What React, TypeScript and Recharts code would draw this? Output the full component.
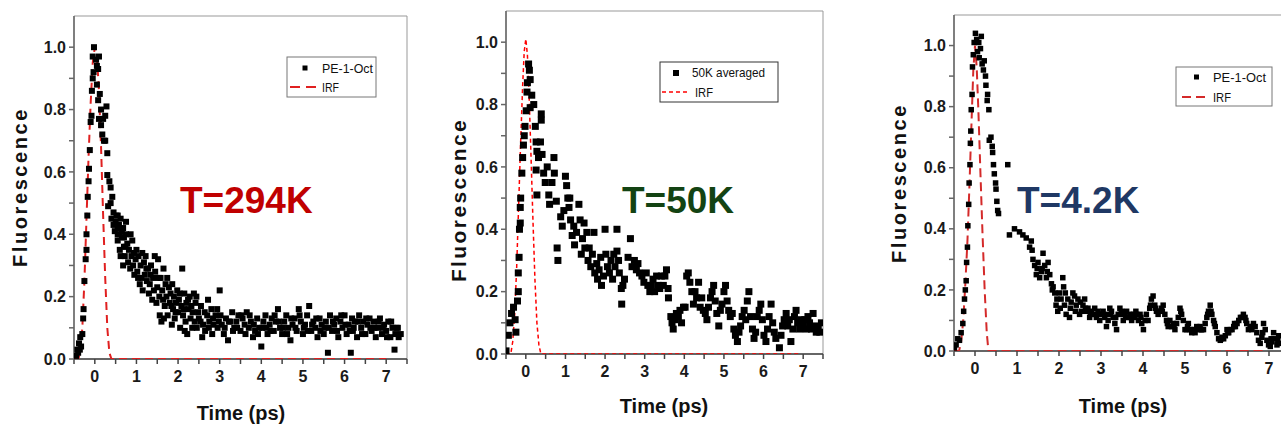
import React from 'react';
import { ScatterChart, Scatter, XAxis, YAxis, ReferenceArea } from 'recharts';

type Pt = [number, number];

// T = 294 K, PE-1-Oct  [time (ps), fluorescence]
const ROOM_POINTS: Pt[] = [
  [-0.45, 0.01], [-0.42, 0.03], [-0.4, 0.02], [-0.38, 0.05], [-0.36, 0.03], [-0.35, 0.07], [-0.33, 0.04],
  [-0.3, 0.08], [-0.28, 0.13], [-0.27, 0.16], [-0.25, 0.25], [-0.22, 0.32], [-0.2, 0.35], [-0.2, 0.4],
  [-0.18, 0.46], [-0.17, 0.52], [-0.15, 0.57], [-0.14, 0.61], [-0.12, 0.67], [-0.1, 0.76], [-0.08, 0.78],
  [-0.07, 0.86], [-0.05, 0.9], [-0.03, 0.92], [-0.05, 0.97], [-0.02, 1.0],
  [0.03, 0.96], [0.05, 0.94], [0.08, 0.93], [0.1, 0.97], [0.05, 0.88], [0.08, 0.83], [0.12, 0.85],
  [0.15, 0.8], [0.1, 0.77], [0.15, 0.75], [0.2, 0.77], [0.18, 0.72], [0.22, 0.7], [0.25, 0.78],
  [0.28, 0.81], [0.25, 0.7], [0.3, 0.66], [0.3, 0.59], [0.35, 0.57], [0.38, 0.55], [0.32, 0.49],
  [0.38, 0.5], [0.42, 0.52], [0.45, 0.47], [0.4, 0.45], [0.45, 0.43], [0.48, 0.41], [0.5, 0.44],
  [0.55, 0.46], [0.55, 0.42], [0.6, 0.4], [0.65, 0.41], [0.7, 0.39], [0.75, 0.44], [0.55, 0.4],
  [0.52, 0.46], [0.55, 0.38], [0.58, 0.43], [0.6, 0.35], [0.62, 0.45], [0.65, 0.39], [0.68, 0.42],
  [0.7, 0.36], [0.72, 0.33], [0.75, 0.4], [0.78, 0.37], [0.8, 0.31], [0.82, 0.35], [0.85, 0.29],
  [0.88, 0.33], [0.9, 0.38], [0.92, 0.3], [0.95, 0.27], [0.98, 0.32], [1.0, 0.35],
  [1.02, 0.28], [1.05, 0.33], [1.08, 0.24], [1.1, 0.3], [1.12, 0.26], [1.15, 0.22], [1.18, 0.31],
  [1.2, 0.27], [1.22, 0.33], [1.25, 0.25], [1.28, 0.29], [1.3, 0.21], [1.32, 0.24], [1.35, 0.3],
  [1.38, 0.19], [1.4, 0.26], [1.42, 0.22], [1.45, 0.28], [1.48, 0.18], [1.5, 0.23], [1.52, 0.32],
  [1.55, 0.2], [1.58, 0.26], [1.6, 0.12], [1.62, 0.22], [1.65, 0.29], [1.68, 0.17], [1.7, 0.24],
  [1.72, 0.2], [1.75, 0.14], [1.78, 0.23], [1.8, 0.18], [1.82, 0.21], [1.85, 0.11], [1.88, 0.16],
  [1.9, 0.2], [1.92, 0.13], [1.95, 0.18], [1.98, 0.22], [2.0, 0.15],
  [2.02, 0.19], [2.05, 0.1], [2.08, 0.17], [2.1, 0.29], [2.12, 0.14], [2.15, 0.21], [2.18, 0.12],
  [2.2, 0.18], [2.22, 0.08], [2.25, 0.16], [2.28, 0.2], [2.3, 0.13], [2.32, 0.17], [2.35, 0.15],
  [2.38, 0.21], [2.4, 0.12], [2.42, 0.18], [2.45, 0.1], [2.48, 0.15], [2.5, 0.13], [2.55, 0.17],
  [2.6, 0.11], [2.65, 0.09], [2.7, 0.14], [2.72, 0.19], [2.75, 0.12], [2.8, 0.16], [2.82, 0.08],
  [2.85, 0.11], [2.9, 0.14], [2.95, 0.1], [3.0, 0.22], [2.98, 0.12],
  [0.62, 0.33], [0.68, 0.3], [0.74, 0.36], [0.86, 0.4], [0.94, 0.34], [1.04, 0.26], [1.14, 0.34],
  [1.24, 0.29], [1.34, 0.27], [1.44, 0.33], [1.54, 0.26], [1.64, 0.19], [1.74, 0.26], [1.84, 0.17],
  [1.94, 0.15], [2.04, 0.21], [2.14, 0.16], [2.24, 0.19], [2.34, 0.1], [2.44, 0.2], [2.54, 0.12],
  [2.64, 0.15], [2.74, 0.1], [2.84, 0.13], [2.94, 0.16], [1.56, 0.14], [1.66, 0.13], [1.86, 0.24],
  [2.16, 0.09], [2.58, 0.07],
  [3.05, 0.11], [3.1, 0.08], [3.15, 0.13], [3.2, 0.06], [3.25, 0.12], [3.3, 0.15], [3.35, 0.1],
  [3.4, 0.12], [3.45, 0.14], [3.5, 0.09], [3.55, 0.13], [3.6, 0.11], [3.65, 0.15], [3.7, 0.1],
  [3.75, 0.12], [3.8, 0.07], [3.85, 0.09], [3.9, 0.13], [3.95, 0.1], [4.0, 0.04], [4.05, 0.12],
  [4.1, 0.14], [4.15, 0.08], [4.2, 0.11], [4.25, 0.13], [4.3, 0.09], [4.35, 0.12], [4.4, 0.16],
  [4.45, 0.1], [4.5, 0.08], [4.55, 0.12], [4.6, 0.14], [4.65, 0.1], [4.7, 0.06], [4.75, 0.11],
  [4.8, 0.13], [4.85, 0.09], [4.9, 0.16], [4.95, 0.12], [5.0, 0.08], [5.05, 0.11], [5.1, 0.14],
  [5.15, 0.17], [5.2, 0.09], [5.25, 0.12], [5.3, 0.1], [5.35, 0.07], [5.4, 0.13], [5.45, 0.11],
  [5.5, 0.08], [5.55, 0.12], [5.6, 0.02], [5.62, 0.1], [5.65, 0.14], [5.7, 0.09], [5.75, 0.11],
  [5.8, 0.13], [5.85, 0.07], [5.9, 0.12], [5.95, 0.1], [6.0, 0.14], [6.05, 0.08], [6.1, 0.11],
  [6.15, 0.02], [6.18, 0.13], [6.2, 0.09], [6.25, 0.12], [6.3, 0.07], [6.35, 0.14], [6.4, 0.1],
  [6.45, 0.12], [6.5, 0.08], [6.55, 0.11], [6.6, 0.13], [6.65, 0.09], [6.7, 0.12], [6.75, 0.07],
  [6.8, 0.1], [6.85, 0.13], [6.9, 0.08], [6.95, 0.11], [7.0, 0.09], [7.05, 0.12], [7.1, 0.07],
  [7.15, 0.1], [7.2, 0.03], [7.22, 0.08], [7.25, 0.1], [7.3, 0.07], [7.35, 0.08],
  [3.02, 0.14], [3.12, 0.1], [3.22, 0.12], [3.32, 0.09], [3.42, 0.1], [3.52, 0.14], [3.62, 0.08],
  [3.72, 0.14], [3.82, 0.11], [3.92, 0.08], [4.02, 0.1], [4.12, 0.1], [4.22, 0.09], [4.32, 0.14],
  [4.42, 0.12], [4.52, 0.1], [4.62, 0.08], [4.72, 0.13], [4.82, 0.1], [4.92, 0.14], [5.02, 0.1],
  [5.12, 0.09], [5.22, 0.11], [5.32, 0.13], [5.42, 0.09], [5.52, 0.1], [5.72, 0.12], [5.82, 0.09],
  [5.92, 0.14], [6.02, 0.11], [6.12, 0.09], [6.22, 0.1], [6.32, 0.12], [6.42, 0.08], [6.52, 0.13],
  [6.62, 0.1], [6.72, 0.1], [6.82, 0.12], [6.92, 0.1], [7.02, 0.07], [7.12, 0.12], [7.28, 0.1],
];

// T = 50 K, averaged
const MID_POINTS: Pt[] = [
  [-0.5, 0.01], [-0.44, 0.06], [-0.4, 0.1], [-0.36, 0.13], [-0.31, 0.15], [-0.27, 0.11], [-0.25, 0.07],
  [-0.21, 0.17], [-0.19, 0.2], [-0.19, 0.26], [-0.17, 0.31], [-0.16, 0.4], [-0.14, 0.42], [-0.14, 0.47],
  [-0.13, 0.5], [-0.1, 0.58], [-0.08, 0.63], [-0.06, 0.67], [-0.04, 0.7], [-0.02, 0.73], [0.01, 0.78],
  [0.03, 0.84], [0.04, 0.87], [0.07, 0.93], [0.09, 0.91],
  [0.11, 0.88], [0.15, 0.83], [0.2, 0.8], [0.11, 0.79], [0.24, 0.73], [0.26, 0.68], [0.28, 0.65],
  [0.32, 0.63], [0.26, 0.59], [0.28, 0.51], [0.39, 0.77], [0.39, 0.75], [0.37, 0.68], [0.41, 0.64],
  [0.45, 0.58], [0.49, 0.55], [0.54, 0.6], [0.58, 0.51], [0.6, 0.48], [0.66, 0.55], [0.71, 0.63],
  [0.72, 0.58], [0.77, 0.49], [0.79, 0.34], [0.81, 0.3], [0.88, 0.44], [0.92, 0.41], [0.96, 0.46],
  [1.0, 0.57], [1.03, 0.54], [1.06, 0.5], [1.09, 0.47], [1.11, 0.5], [1.13, 0.43], [1.17, 0.38],
  [1.21, 0.41], [1.23, 0.35], [1.28, 0.39], [1.34, 0.48], [1.37, 0.43], [1.4, 0.32], [1.43, 0.37],
  [1.47, 0.42], [1.49, 0.34], [1.54, 0.39], [1.57, 0.3], [1.6, 0.34], [1.64, 0.28], [1.68, 0.32],
  [1.72, 0.39], [1.74, 0.26], [1.79, 0.29], [1.81, 0.24], [1.85, 0.27], [1.89, 0.31], [1.91, 0.22],
  [1.96, 0.25], [2.0, 0.4], [2.02, 0.32], [2.06, 0.28], [2.11, 0.26], [2.15, 0.3], [2.19, 0.24],
  [2.22, 0.32], [2.25, 0.28], [2.3, 0.4], [2.3, 0.33], [2.34, 0.3], [2.36, 0.26], [2.41, 0.21],
  [2.42, 0.16], [2.45, 0.22], [2.49, 0.24], [2.58, 0.31], [2.64, 0.37], [2.68, 0.28], [2.74, 0.3],
  [2.79, 0.27], [2.83, 0.29], [2.87, 0.26], [2.93, 0.25], [2.98, 0.23], [3.04, 0.26], [3.08, 0.22],
  [3.13, 0.2], [3.17, 0.22], [3.21, 0.24], [3.25, 0.2], [3.3, 0.25], [3.34, 0.22], [3.38, 0.21],
  [3.42, 0.25], [3.47, 0.22], [3.51, 0.25], [3.55, 0.27], [3.59, 0.21], [3.6, 0.18], [3.66, 0.12],
  [3.69, 0.1], [3.72, 0.08], [3.76, 0.11], [3.8, 0.13], [3.85, 0.12], [3.89, 0.14], [3.93, 0.1],
  [3.98, 0.15], [4.02, 0.15], [4.06, 0.25], [4.1, 0.26], [4.14, 0.23], [4.19, 0.2], [4.23, 0.16],
  [4.27, 0.2], [4.31, 0.18], [4.36, 0.23], [4.4, 0.15], [4.44, 0.18], [4.48, 0.14], [4.53, 0.13],
  [4.57, 0.11], [4.61, 0.15], [4.66, 0.18], [4.7, 0.2], [4.74, 0.22], [4.78, 0.17], [4.82, 0.13],
  [4.87, 0.09], [4.91, 0.14], [4.95, 0.16], [5.0, 0.2], [5.04, 0.22], [5.08, 0.17], [5.12, 0.14],
  [5.16, 0.12], [5.21, 0.13], [5.25, 0.08], [5.29, 0.06], [5.34, 0.04], [5.38, 0.07], [5.42, 0.09],
  [5.46, 0.12], [5.51, 0.14], [5.55, 0.11], [5.59, 0.17], [5.63, 0.2], [5.67, 0.12], [5.72, 0.08],
  [5.76, 0.05], [5.8, 0.07], [5.84, 0.12], [5.89, 0.14], [5.93, 0.16], [5.97, 0.11], [6.01, 0.06],
  [6.06, 0.04], [6.1, 0.08], [6.14, 0.12], [6.19, 0.16], [6.23, 0.1], [6.27, 0.07], [6.31, 0.05],
  [6.4, 0.02], [6.44, 0.06], [6.48, 0.09], [6.52, 0.11], [6.57, 0.13], [6.61, 0.09], [6.65, 0.11],
  [6.69, 0.04], [6.74, 0.08], [6.78, 0.12], [6.82, 0.14], [6.86, 0.1], [6.91, 0.08], [6.95, 0.11],
  [6.99, 0.09], [7.04, 0.11], [7.08, 0.08], [7.12, 0.12], [7.16, 0.1], [7.21, 0.08], [7.25, 0.13],
  [7.29, 0.09], [7.33, 0.07], [7.38, 0.08], [7.42, 0.07], [7.46, 0.1],
];

// T = 4.2 K, PE-1-Oct
const LOW_POINTS: Pt[] = [
  [-0.49, 0.01], [-0.45, 0.02], [-0.41, 0.04], [-0.37, 0.035], [-0.33, 0.06], [-0.29, 0.09], [-0.27, 0.13],
  [-0.25, 0.17], [-0.23, 0.2], [-0.21, 0.23], [-0.2, 0.29], [-0.18, 0.34], [-0.17, 0.41], [-0.15, 0.48],
  [-0.14, 0.55], [-0.12, 0.61], [-0.11, 0.68], [-0.1, 0.72], [-0.09, 0.79], [-0.07, 0.84], [-0.06, 0.93],
  [-0.04, 0.97], [-0.02, 1.01], [0.01, 1.04], [0.04, 1.02], [0.06, 0.98], [0.09, 1.01], [0.1, 0.96],
  [0.13, 0.99], [0.15, 1.03], [0.17, 0.94], [0.2, 0.92], [0.22, 0.95], [0.25, 0.9], [0.26, 0.87],
  [0.29, 0.82], [0.3, 0.84], [0.33, 0.79], [0.34, 0.69], [0.38, 0.7], [0.41, 0.67], [0.42, 0.65],
  [0.44, 0.61], [0.46, 0.58], [0.49, 0.55], [0.5, 0.53], [0.52, 0.49], [0.54, 0.46], [0.56, 0.45],
  [0.78, 0.61],
  [0.82, 0.38], [0.94, 0.4], [1.06, 0.39], [1.14, 0.38], [1.22, 0.37], [1.3, 0.34], [1.34, 0.36],
  [1.38, 0.3], [1.42, 0.28], [1.46, 0.25], [1.5, 0.29], [1.54, 0.24], [1.58, 0.26], [1.62, 0.32],
  [1.66, 0.28], [1.7, 0.24], [1.74, 0.29], [1.78, 0.25], [1.82, 0.22], [1.86, 0.21], [1.9, 0.19],
  [1.93, 0.15], [1.97, 0.13], [2.01, 0.19], [2.05, 0.17], [2.09, 0.24], [2.11, 0.21], [2.13, 0.15],
  [2.17, 0.12], [2.21, 0.17], [2.25, 0.11], [2.29, 0.16], [2.33, 0.19], [2.37, 0.18], [2.41, 0.15],
  [2.45, 0.17], [2.49, 0.12], [2.53, 0.13], [2.57, 0.15], [2.61, 0.17], [2.65, 0.13], [2.69, 0.14],
  [2.73, 0.11], [2.77, 0.13], [2.81, 0.12], [2.85, 0.14], [2.89, 0.11], [2.93, 0.13], [2.97, 0.1],
  [3.01, 0.12], [3.05, 0.13], [3.09, 0.11], [3.13, 0.08], [3.17, 0.1], [3.21, 0.14], [3.25, 0.13],
  [3.29, 0.11], [3.33, 0.09], [3.37, 0.07], [3.41, 0.12], [3.45, 0.14], [3.49, 0.13], [3.53, 0.1],
  [3.57, 0.12], [3.61, 0.13], [3.65, 0.11], [3.69, 0.12], [3.73, 0.1], [3.77, 0.12], [3.81, 0.11],
  [3.85, 0.12], [3.89, 0.1], [3.93, 0.12], [3.97, 0.09], [4.01, 0.07], [4.05, 0.1], [4.08, 0.12],
  [4.12, 0.1], [4.16, 0.14], [4.2, 0.17], [4.24, 0.18], [4.28, 0.15], [4.32, 0.13], [4.36, 0.12],
  [4.4, 0.13], [4.44, 0.14], [4.48, 0.15], [4.52, 0.12], [4.56, 0.1], [4.6, 0.08], [4.64, 0.1],
  [4.68, 0.08], [4.72, 0.09], [4.76, 0.07], [4.8, 0.09], [4.84, 0.11], [4.88, 0.14], [4.92, 0.12],
  [4.96, 0.1], [5.0, 0.07], [5.04, 0.07], [5.08, 0.09], [5.12, 0.07], [5.16, 0.06], [5.2, 0.07],
  [5.24, 0.06], [5.28, 0.08], [5.32, 0.07], [5.36, 0.08], [5.4, 0.07], [5.44, 0.07], [5.48, 0.09],
  [5.52, 0.11], [5.56, 0.13], [5.6, 0.15], [5.64, 0.12], [5.68, 0.1], [5.72, 0.08], [5.76, 0.06],
  [5.8, 0.04], [5.84, 0.035], [5.88, 0.045], [5.92, 0.04], [5.96, 0.05], [6.0, 0.07], [6.04, 0.06],
  [6.08, 0.07], [6.12, 0.07], [6.16, 0.08], [6.2, 0.08], [6.24, 0.09], [6.28, 0.1], [6.32, 0.11],
  [6.39, 0.12], [6.43, 0.11], [6.47, 0.09], [6.51, 0.07], [6.55, 0.08], [6.59, 0.07], [6.63, 0.09],
  [6.67, 0.08], [6.71, 0.06], [6.75, 0.035], [6.79, 0.025], [6.83, 0.045], [6.87, 0.09], [6.91, 0.07],
  [6.95, 0.035], [6.99, 0.02], [7.03, 0.015], [7.07, 0.03], [7.11, 0.06], [7.15, 0.04], [7.19, 0.02],
  [7.23, 0.05], [7.27, 0.025],
  [1.36, 0.33], [1.48, 0.27], [1.6, 0.27], [1.72, 0.26], [1.84, 0.2], [1.95, 0.17], [2.03, 0.14],
  [2.15, 0.19], [2.27, 0.14], [2.39, 0.13], [2.51, 0.16], [2.63, 0.14], [2.75, 0.12], [2.87, 0.12],
  [2.99, 0.12], [3.11, 0.12], [3.23, 0.12], [3.35, 0.11], [3.47, 0.12], [3.59, 0.11], [3.71, 0.11],
  [3.83, 0.13], [3.95, 0.11], [4.18, 0.15], [4.3, 0.14], [4.46, 0.13], [4.58, 0.09], [4.74, 0.08],
  [4.9, 0.13], [5.06, 0.08], [5.22, 0.07], [5.38, 0.07], [5.54, 0.12], [5.62, 0.13], [5.7, 0.09],
  [5.86, 0.04], [6.02, 0.06], [6.18, 0.09], [6.36, 0.11], [6.45, 0.1], [6.61, 0.08], [6.85, 0.06],
  [7.05, 0.04], [7.21, 0.035],
];

// instrument response functions
const ROOM_IRF: Pt[] = [
  [-0.5, 0], [-0.4, 0], [-0.35, 0.02], [-0.3, 0.1], [-0.25, 0.25], [-0.2, 0.45], [-0.15, 0.65],
  [-0.1, 0.82], [-0.05, 0.95], [0, 1.0], [0.05, 0.97], [0.1, 0.86], [0.15, 0.68], [0.2, 0.46],
  [0.25, 0.26], [0.3, 0.1], [0.35, 0.02], [0.4, 0], [7.0, 0],
];
const MID_IRF: Pt[] = [
  [-0.5, 0], [-0.38, 0], [-0.33, 0.04], [-0.28, 0.13], [-0.23, 0.28], [-0.18, 0.48], [-0.13, 0.68],
  [-0.08, 0.86], [-0.04, 0.97], [0, 1.01], [0.04, 0.96], [0.08, 0.84], [0.13, 0.64], [0.18, 0.43],
  [0.23, 0.24], [0.28, 0.1], [0.33, 0.03], [0.38, 0], [6.9, 0],
];
const LOW_IRF: Pt[] = [
  [-0.5, 0], [-0.38, 0], [-0.33, 0.03], [-0.28, 0.1], [-0.23, 0.22], [-0.18, 0.36], [-0.13, 0.55],
  [-0.08, 0.76], [-0.04, 0.92], [0, 1.0], [0.04, 0.93], [0.08, 0.79], [0.13, 0.58], [0.18, 0.38],
  [0.23, 0.2], [0.28, 0.06], [0.32, 0], [6.9, 0],
];

const X_TICKS = [-0.5, 0, 0.5, 1, 1.5, 2, 2.5, 3, 3.5, 4, 4.5, 5, 5.5, 6, 6.5, 7, 7.5];
const Y_TICKS = [0, 0.1, 0.2, 0.3, 0.4, 0.5, 0.6, 0.7, 0.8, 0.9, 1.0];
const Y_LABELED = [0, 0.2, 0.4, 0.6, 0.8, 1.0];

const FONT = '"Liberation Sans", Arial, sans-serif';

const toRows = (pts: Pt[]) => pts.map(([t, f]) => ({ t, f }));

interface PanelProps {
  left: number;
  width: number;
  top: number;
  bottom: number;
  yAxisWidth: number;
  right: number;
  points: Pt[];
  irf: Pt[];
  marker: number;
  irfColor: string;
  irfDash: string;
  irfWidth: number;
}

const Panel: React.FC<PanelProps> = ({ left, width, top, bottom, yAxisWidth, right, points, irf, marker, irfColor, irfDash, irfWidth }) => {
  const tickStyle = { fontSize: 16, fontWeight: 'bold', fill: '#1a1a1a', fontFamily: FONT };
  return (
    <div style={{ position: 'absolute', left, top: 0 }}>
      <ScatterChart width={width} height={427} margin={{ top, right, bottom, left: 0 }}>
        <XAxis
          type="number"
          dataKey="t"
          domain={[-0.5, 7.5]}
          ticks={X_TICKS}
          interval={0}
          allowDataOverflow
          height={30}
          tickSize={5}
          tickMargin={7}
          stroke="#444"
          strokeWidth={1.5}
          tick={tickStyle}
          tickFormatter={(v: number) => (Number.isInteger(v) ? String(v) : '')}
        />
        <YAxis
          type="number"
          dataKey="f"
          domain={[0, 1.1]}
          ticks={Y_TICKS}
          interval={0}
          allowDataOverflow
          width={yAxisWidth}
          tickSize={5}
          tickMargin={3}
          stroke="#666"
          strokeWidth={1.5}
          tick={tickStyle}
          tickFormatter={(v: number) => (Y_LABELED.some(l => Math.abs(l - v) < 1e-6) ? v.toFixed(1) : '')}
        />
        <ReferenceArea x1={-0.5} x2={7.5} y1={0} y2={1.1} fill="none" stroke="#999" strokeWidth={1} />
        <Scatter
          data={toRows(irf)}
          isAnimationActive={false}
          line={{ stroke: irfColor, strokeWidth: irfWidth, strokeDasharray: irfDash }}
          lineType="joint"
          shape={() => <g />}
        />
        <Scatter
          data={toRows(points)}
          isAnimationActive={false}
          shape={(p: any) => (
            <rect x={p.cx - marker / 2} y={p.cy - marker / 2} width={marker} height={marker} fill="#000" />
          )}
        />
      </ScatterChart>
    </div>
  );
};

const Overlay: React.FC = () => {
  const title = { fontFamily: FONT, fontWeight: 'bold' as const, fill: '#111' };
  const legendText = { fontFamily: FONT, fill: '#111' };
  return (
    <svg width={1281} height={427} style={{ position: 'absolute', left: 0, top: 0, pointerEvents: 'none' }}>
      {/* axis titles */}
      <text x={27} y={187} transform="rotate(-90 27 187)" textAnchor="middle" fontSize={20} letterSpacing={2.6} {...title}>Fluorescence</text>
      <text x={241} y={420} textAnchor="middle" fontSize={20} {...title}>Time (ps)</text>
      <text x={466} y={200} transform="rotate(-90 466 200)" textAnchor="middle" fontSize={21} letterSpacing={2.4} {...title}>Fluorescence</text>
      <text x={664} y={413} textAnchor="middle" fontSize={20} {...title}>Time (ps)</text>
      <text x={906} y={183} transform="rotate(-90 906 183)" textAnchor="middle" fontSize={20} letterSpacing={2.6} {...title}>Fluorescence</text>
      <text x={1123} y={413} textAnchor="middle" fontSize={20} {...title}>Time (ps)</text>

      {/* temperature labels */}
      <text x={180} y={213} fontSize={37} fontFamily={FONT} fontWeight="bold" fill="#c00000">T=294K</text>
      <text x={622} y={213} fontSize={37} fontFamily={FONT} fontWeight="bold" fill="#134313">T=50K</text>
      <text x={1017} y={213} fontSize={37} fontFamily={FONT} fontWeight="bold" fill="#1f3864">T=4.2K</text>

      {/* legends */}
      <rect x={287} y={57} width={89} height={40} fill="#fff" stroke="#777" strokeWidth={1} />
      <rect x={302.5} y={65.5} width={5} height={5} fill="#000" />
      <text x={322} y={73} fontSize={13} textLength={51} lengthAdjust="spacingAndGlyphs" {...legendText}>PE-1-Oct</text>
      <line x1={290} y1={87} x2={318} y2={87} stroke="#e02020" strokeWidth={2} strokeDasharray="10 6" />
      <text x={322} y={92} fontSize={13} textLength={17} lengthAdjust="spacingAndGlyphs" {...legendText}>IRF</text>

      <rect x={660} y={62} width={118} height={40} fill="#fff" stroke="#333" strokeWidth={1} />
      <rect x={673} y={70} width={6} height={6} fill="#000" />
      <text x={692} y={77} fontSize={13} textLength={73} lengthAdjust="spacingAndGlyphs" {...legendText}>50K averaged</text>
      <line x1={662} y1={92} x2={689} y2={92} stroke="#ff0000" strokeWidth={1.5} strokeDasharray="4 3" />
      <text x={695} y={97} fontSize={13} textLength={18} lengthAdjust="spacingAndGlyphs" {...legendText}>IRF</text>

      <rect x={1176} y={67} width={96} height={39} fill="#fff" stroke="#777" strokeWidth={1} />
      <rect x={1194} y={74.5} width={5} height={5} fill="#000" />
      <text x={1213} y={82} fontSize={13} textLength={53} lengthAdjust="spacingAndGlyphs" {...legendText}>PE-1-Oct</text>
      <line x1={1182} y1={97} x2={1210} y2={97} stroke="#d42a2a" strokeWidth={2} strokeDasharray="9 5" />
      <text x={1213} y={102} fontSize={13} textLength={18} lengthAdjust="spacingAndGlyphs" {...legendText}>IRF</text>
    </svg>
  );
};

export default function App() {
  return (
    <div style={{ position: 'absolute', left: 0, top: 0, width: 1281, height: 427, overflow: 'hidden', background: '#fff' }}>
      <Panel left={0} width={430} top={16} bottom={38} yAxisWidth={74} right={23}
        points={ROOM_POINTS} irf={ROOM_IRF} marker={6} irfColor="#e02020" irfDash="8 5" irfWidth={2} />
      <Panel left={430} width={430} top={11} bottom={43} yAxisWidth={76} right={37}
        points={MID_POINTS} irf={MID_IRF} marker={7} irfColor="#ff0000" irfDash="4 3" irfWidth={1.5} />
      <Panel left={860} width={450} top={15} bottom={46} yAxisWidth={94} right={20}
        points={LOW_POINTS} irf={LOW_IRF} marker={5.5} irfColor="#d42a2a" irfDash="9 5" irfWidth={2} />
      <Overlay />
    </div>
  );
}
